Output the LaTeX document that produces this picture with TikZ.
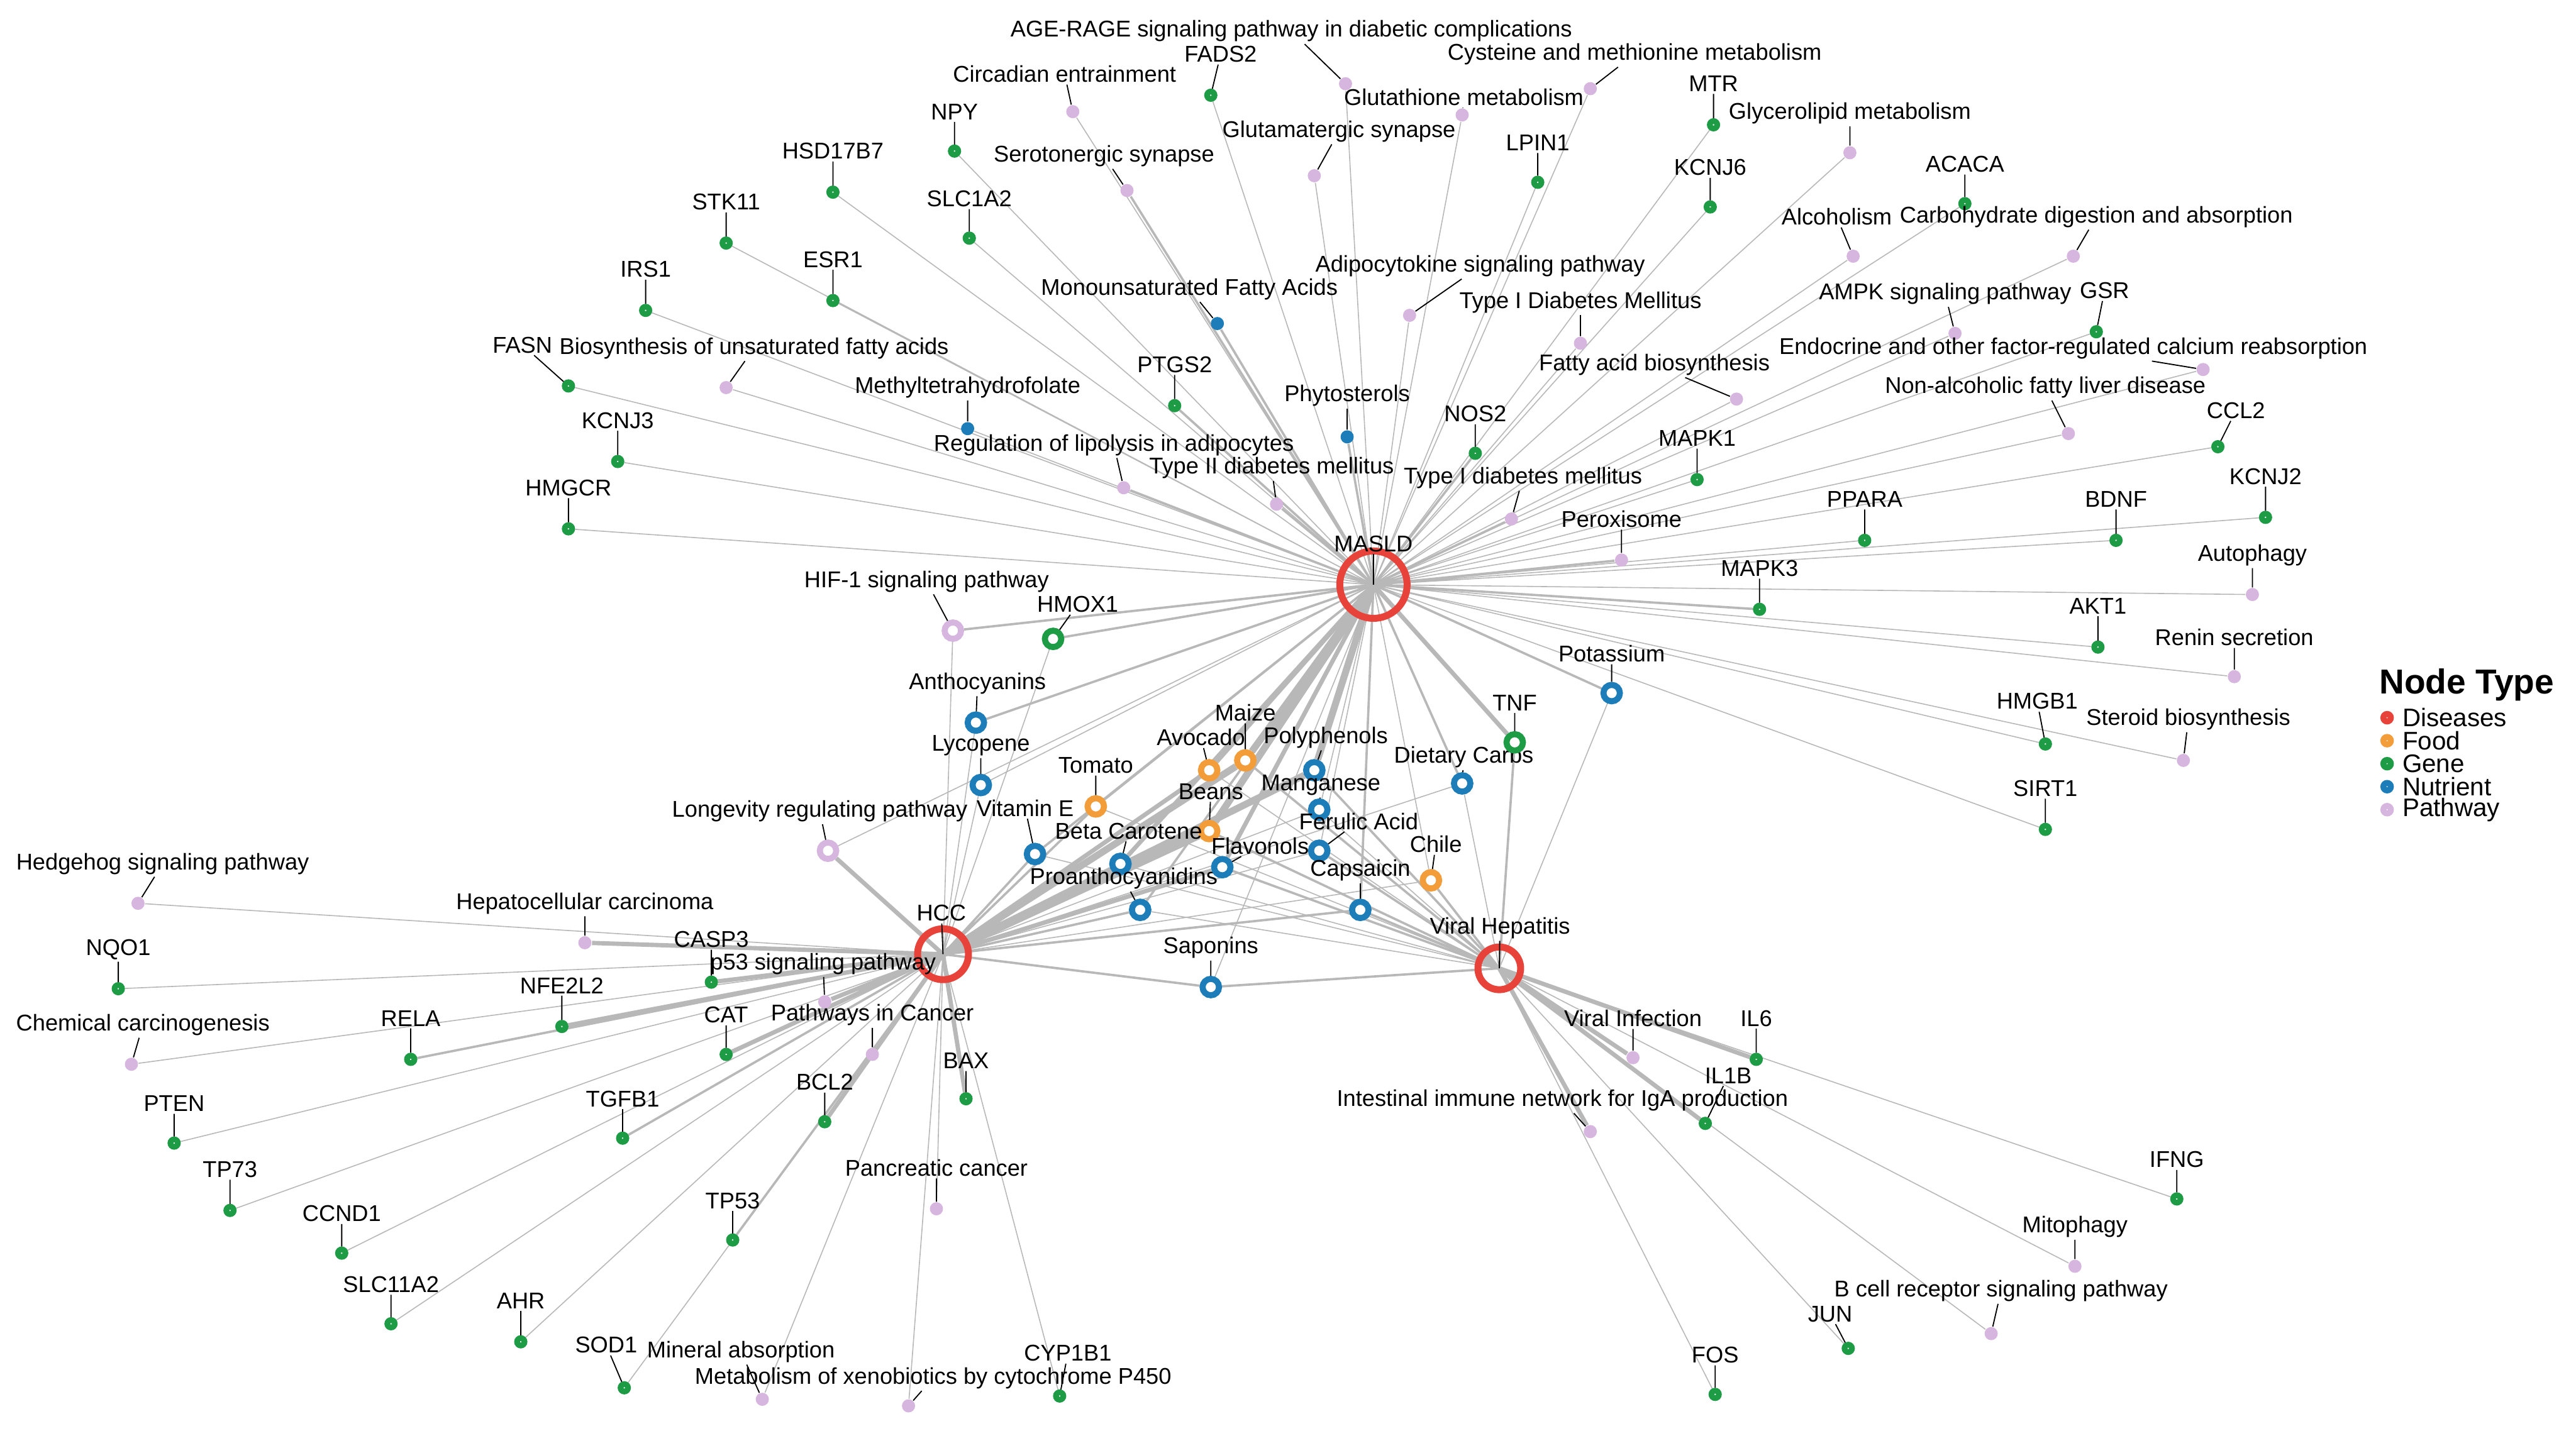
\documentclass[tikz,border=0pt]{standalone}
\usepackage{fontspec}
\setmainfont{Liberation Sans}
\usetikzlibrary{backgrounds}

\definecolor{disred}{HTML}{E8433A}
\definecolor{foodorange}{HTML}{F39C3A}
\definecolor{genegreen}{HTML}{1E9B45}
\definecolor{nutblue}{HTML}{1C7DB8}
\definecolor{pathpink}{HTML}{D6B6DE}
\definecolor{wiregray}{HTML}{B8B8B8}

\begin{document}
\begin{tikzpicture}[
    x=0.02cm, y=-0.02cm,
    font=\fontsize{7.9}{8.5}\selectfont,
    hub/.style={circle,draw=disred,line width=2.4pt,inner sep=0pt},
    ringnode/.style={circle,fill=white,line width=2.1pt,minimum size=0.2cm,inner sep=0pt},
    food/.style={ringnode,draw=foodorange},
    nutrient/.style={ringnode,draw=nutblue},
    genering/.style={ringnode,draw=genegreen},
    pathring/.style={ringnode,draw=pathpink},
    dotnode/.style={circle,minimum size=0.16cm,inner sep=0pt},
    gene/.style={circle,draw=genegreen,fill=white,line width=2pt,minimum size=0.09cm,inner sep=0pt},
    pathway/.style={dotnode,fill=pathpink},
    nutdot/.style={dotnode,fill=nutblue},
    lbl/.style={inner sep=0.6pt},
    leader/.style={line width=0.4pt,black},
    wire/.style={wiregray,line width=0.35pt},
    wiretwo/.style={wiregray,line width=0.8pt},
    wirethree/.style={wiregray,line width=1.5pt},
    wirefour/.style={wiregray,line width=2.4pt},
    legmark/.style={circle,line width=2.1pt,minimum size=0.09cm,inner sep=0pt,fill=white},
    legtext/.style={anchor=west,inner sep=0pt,font=\fontsize{8.8}{9}\selectfont}
]

\useasboundingbox (0,0) rectangle (1568,874);

% Hubs
\node[hub,minimum size=0.82cm] (masld) at (836,356) {};
\node[lbl] (t-masld) at (836,331) {MASLD};
\node[hub,minimum size=0.62cm] (hcc) at (574,581) {};
\node[lbl] (t-hcc) at (573,556) {HCC};
\node[hub,minimum size=0.52cm] (viral) at (912.6,589.6) {};
\node[lbl] (t-viral) at (913,565) {Viral Hepatitis};

% Food
\node[food] (tomato) at (667,491) {};  \node[lbl] (t-tomato) at (667,466) {Tomato};
\node[food] (avocado) at (736,469) {}; \node[lbl] (t-avocado) at (731,449) {Avocado};
\node[food] (maize) at (758,463) {};   \node[lbl] (t-maize) at (758,434) {Maize};
\node[food] (beans) at (736,506) {};   \node[lbl] (t-beans) at (737,482) {Beans};
\node[food] (chile) at (871,536) {};   \node[lbl] (t-chile) at (874,514) {Chile};

% Nutrients
\node[nutrient] (antho) at (594,440) {}; \node[lbl] (t-antho) at (595,416) {Anthocyanins};
\node[nutrient] (lyco) at (597,478) {};  \node[lbl] (t-lyco) at (597,454) {Lycopene};
\node[nutrient] (vite) at (630,520) {};  \node[lbl] (t-vite) at (624,492) {Vitamin E};
\node[nutrient] (beta) at (682,526) {};  \node[lbl] (t-beta) at (687,506) {Beta Carotene};
\node[nutrient] (proan) at (694,554) {}; \node[lbl] (t-proan) at (684,535) {Proanthocyanidins};
\node[nutrient] (flav) at (744,528) {};  \node[lbl] (t-flav) at (767,515) {Flavonols};
\node[nutrient] (poly) at (800,469) {};  \node[lbl] (t-poly) at (807,449) {Polyphenols};
\node[nutrient] (mang) at (803,493) {};  \node[lbl] (t-mang) at (804,478) {Manganese};
\node[nutrient] (feru) at (803,518) {};  \node[lbl] (t-feru) at (827,500) {Ferulic Acid};
\node[nutrient] (caps) at (828,554) {};  \node[lbl] (t-caps) at (828,530) {Capsaicin};
\node[nutrient] (carbs) at (890,477) {}; \node[lbl] (t-carbs) at (891,461) {Dietary Carbs};
\node[nutrient] (sapo) at (737,601) {};  \node[lbl] (t-sapo) at (737,577) {Saponins};
\node[nutrient] (potas) at (981,422) {}; \node[lbl] (t-potas) at (981,398) {Potassium};
\node[nutdot] (mufa) at (741,197) {};    \node[lbl] (t-mufa) at (724,176) {Monounsaturated Fatty Acids};
\node[nutdot] (mthf) at (589,261) {};    \node[lbl] (t-mthf) at (589,236) {Methyltetrahydrofolate};
\node[nutdot] (phyto) at (820,266) {};   \node[lbl] (t-phyto) at (820,241) {Phytosterols};

% Genes, MASLD side
\node[gene] (npy) at (581,92) {};     \node[lbl] (t-npy) at (581,68) {NPY};
\node[gene] (hsd) at (507,117) {};    \node[lbl] (t-hsd) at (507,92) {HSD17B7};
\node[gene] (stk) at (442,148) {};    \node[lbl] (t-stk) at (442,123) {STK11};
\node[gene] (irs) at (393,189) {};    \node[lbl] (t-irs) at (393,164) {IRS1};
\node[gene] (esr) at (507,183) {};    \node[lbl] (t-esr) at (507,158) {ESR1};
\node[gene] (slca) at (590,145) {};   \node[lbl] (t-slca) at (590,121) {SLC1A2};
\node[gene] (fasn) at (346,235) {};   \node[lbl] (t-fasn) at (318,210) {FASN};
\node[gene] (kcnjc) at (376,281) {};  \node[lbl] (t-kcnjc) at (376,256) {KCNJ3};
\node[gene] (hmgcr) at (346,322) {};  \node[lbl] (t-hmgcr) at (346,297) {HMGCR};
\node[gene] (fads) at (737,58) {};    \node[lbl] (t-fads) at (743,33) {FADS2};
\node[gene] (ptgs) at (715,247) {};   \node[lbl] (t-ptgs) at (715,222) {PTGS2};
\node[gene] (lpin) at (936,111) {};   \node[lbl] (t-lpin) at (936,87) {LPIN1};
\node[gene] (mtr) at (1043,76) {};    \node[lbl] (t-mtr) at (1043,51) {MTR};
\node[gene] (kcnjf) at (1041,126) {}; \node[lbl] (t-kcnjf) at (1041,102) {KCNJ6};
\node[gene] (nos) at (898,276) {};    \node[lbl] (t-nos) at (898,252) {NOS2};
\node[gene] (mapka) at (1033,292) {}; \node[lbl] (t-mapka) at (1033,267) {MAPK1};
\node[gene] (acaca) at (1196,124) {}; \node[lbl] (t-acaca) at (1196,100) {ACACA};
\node[gene] (gsr) at (1276,202) {};   \node[lbl] (t-gsr) at (1281,177) {GSR};
\node[gene] (ccl) at (1350,272) {};   \node[lbl] (t-ccl) at (1361,250) {CCL2};
\node[gene] (kcnjb) at (1379,315) {}; \node[lbl] (t-kcnjb) at (1379,290) {KCNJ2};
\node[gene] (bdnf) at (1288,329) {};  \node[lbl] (t-bdnf) at (1288,304) {BDNF};
\node[gene] (ppara) at (1135,329) {}; \node[lbl] (t-ppara) at (1135,304) {PPARA};
\node[gene] (mapkc) at (1071,371) {}; \node[lbl] (t-mapkc) at (1071,346) {MAPK3};
\node[gene] (akt) at (1277,394) {};   \node[lbl] (t-akt) at (1277,369) {AKT1};
\node[gene] (hmgb) at (1245,453) {};  \node[lbl] (t-hmgb) at (1240,427) {HMGB1};
\node[gene] (sirt) at (1245,505) {};  \node[lbl] (t-sirt) at (1245,480) {SIRT1};
\node[genering] (hmox) at (641,389) {}; \node[lbl] (t-hmox) at (656,368) {HMOX1};
\node[genering] (tnf) at (922,452) {};  \node[lbl] (t-tnf) at (922,428) {TNF};

% Genes, HCC side
\node[gene] (nqo) at (72,602) {};     \node[lbl] (t-nqo) at (72,578) {NQO1};
\node[gene] (casp) at (433,598) {};   \node[lbl] (t-casp) at (433,572) {CASP3};
\node[gene] (nfe) at (342,625) {};    \node[lbl] (t-nfe) at (342,600) {NFE2L2};
\node[gene] (rela) at (250,645) {};   \node[lbl] (t-rela) at (250,620) {RELA};
\node[gene] (cat) at (442,642) {};    \node[lbl] (t-cat) at (442,618) {CAT};
\node[gene] (pten) at (106,696) {};   \node[lbl] (t-pten) at (106,672) {PTEN};
\node[gene] (tgfb) at (379,693) {};   \node[lbl] (t-tgfb) at (379,669) {TGFB1};
\node[gene] (bcl) at (502,683) {};    \node[lbl] (t-bcl) at (502,659) {BCL2};
\node[gene] (bax) at (588,669) {};    \node[lbl] (t-bax) at (588,646) {BAX};
\node[gene] (tpsz) at (140,737) {};   \node[lbl] (t-tpsz) at (140,712) {TP73};
\node[gene] (ccnd) at (208,763) {};   \node[lbl] (t-ccnd) at (208,739) {CCND1};
\node[gene] (tpft) at (446,755) {};   \node[lbl] (t-tpft) at (446,731) {TP53};
\node[gene] (slcb) at (238,806) {};   \node[lbl] (t-slcb) at (238,782) {SLC11A2};
\node[gene] (ahr) at (317,817) {};    \node[lbl] (t-ahr) at (317,792) {AHR};
\node[gene] (sod) at (380,845) {};    \node[lbl] (t-sod) at (369,819) {SOD1};
\node[gene] (cyp) at (645,850) {};    \node[lbl] (t-cyp) at (650,824) {CYP1B1};

% Genes, viral side
\node[gene] (ilsix) at (1069,645) {}; \node[lbl] (t-ilsix) at (1069,620) {IL6};
\node[gene] (ilb) at (1038,684) {};   \node[lbl] (t-ilb) at (1052,655) {IL1B};
\node[gene] (ifng) at (1325,730) {};  \node[lbl] (t-ifng) at (1325,706) {IFNG};
\node[gene] (jun) at (1125,821) {};   \node[lbl] (t-jun) at (1114,800) {JUN};
\node[gene] (fos) at (1044,849) {};   \node[lbl] (t-fos) at (1044,825) {FOS};

% Pathways, MASLD side
\node[pathway] (agerage) at (819,51) {}; \node[lbl] (t-agerage) at (786,19) {AGE-RAGE signaling pathway in diabetic complications};
\node[pathway] (circ) at (653,68) {};    \node[lbl] (t-circ) at (648,45) {Circadian entrainment};
\node[pathway] (sero) at (686,116) {};   \node[lbl] (t-sero) at (672,95) {Serotonergic synapse};
\node[pathway] (gluta) at (800,107) {};  \node[lbl] (t-gluta) at (815,80) {Glutamatergic synapse};
\node[pathway] (gsh) at (890,70) {};     \node[lbl] (t-gsh) at (891,59) {Glutathione metabolism};
\node[pathway] (cys) at (968,54) {};     \node[lbl] (t-cys) at (995,33) {Cysteine and methionine metabolism};
\node[pathway] (glycero) at (1126,93) {}; \node[lbl] (t-glycero) at (1126,69) {Glycerolipid metabolism};
\node[pathway] (alco) at (1128,156) {};  \node[lbl] (t-alco) at (1118,132) {Alcoholism};
\node[pathway] (carbo) at (1262,156) {}; \node[lbl] (t-carbo) at (1276,132) {Carbohydrate digestion and absorption};
\node[pathway] (ampk) at (1190,203) {};  \node[lbl] (t-ampk) at (1184,179) {AMPK signaling pathway};
\node[pathway] (endo) at (1341,225) {};  \node[lbl] (t-endo) at (1262,212) {Endocrine and other factor-regulated calcium reabsorption};
\node[pathway] (nafld) at (1259,264) {}; \node[lbl] (t-nafld) at (1245,236) {Non-alcoholic fatty liver disease};
\node[pathway] (adipo) at (858,192) {};  \node[lbl] (t-adipo) at (901,162) {Adipocytokine signaling pathway};
\node[pathway] (tidm) at (962,209) {};   \node[lbl] (t-tidm) at (962,184) {Type I Diabetes Mellitus};
\node[pathway] (fab) at (1057,243) {};   \node[lbl] (t-fab) at (1007,222) {Fatty acid biosynthesis};
\node[pathway] (biosyn) at (442,236) {}; \node[lbl] (t-biosyn) at (459,212) {Biosynthesis of unsaturated fatty acids};
\node[pathway] (lipo) at (684,297) {};   \node[lbl] (t-lipo) at (678,271) {Regulation of lipolysis in adipocytes};
\node[pathway] (ttdm) at (777,307) {};   \node[lbl] (t-ttdm) at (774,285) {Type II diabetes mellitus};
\node[pathway] (tidml) at (920,316) {};  \node[lbl] (t-tidml) at (927,291) {Type I diabetes mellitus};
\node[pathway] (perox) at (987,341) {};  \node[lbl] (t-perox) at (987,316) {Peroxisome};
\node[pathway] (autoph) at (1371,362) {}; \node[lbl] (t-autoph) at (1371,338) {Autophagy};
\node[pathway] (renin) at (1360,412) {}; \node[lbl] (t-renin) at (1360,388) {Renin secretion};
\node[pathway] (steroid) at (1329,463) {}; \node[lbl] (t-steroid) at (1332,438) {Steroid biosynthesis};
\node[pathring] (hif) at (580,384) {};   \node[lbl] (t-hif) at (564,354) {HIF-1 signaling pathway};

% Pathways, HCC side
\node[pathring] (longev) at (504,518) {}; \node[lbl] (t-longev) at (499,494) {Longevity regulating pathway};
\node[pathway] (hedge) at (84,550) {};   \node[lbl] (t-hedge) at (99,526) {Hedgehog signaling pathway};
\node[pathway] (hepca) at (356,574) {};  \node[lbl] (t-hepca) at (356,550) {Hepatocellular carcinoma};
\node[pathway] (pft) at (502,610) {};    \node[lbl] (t-pft) at (501,587) {p53 signaling pathway};
\node[pathway] (chem) at (80,648) {};    \node[lbl] (t-chem) at (87,624) {Chemical carcinogenesis};
\node[pathway] (pic) at (531,642) {};    \node[lbl] (t-pic) at (531,618) {Pathways in Cancer};
\node[pathway] (panc) at (570,736) {};   \node[lbl] (t-panc) at (570,711) {Pancreatic cancer};
\node[pathway] (mineral) at (464,852) {}; \node[lbl] (t-mineral) at (451,823) {Mineral absorption};
\node[pathway] (xeno) at (553,856) {};   \node[lbl] (t-xeno) at (568,839) {Metabolism of xenobiotics by cytochrome P450};

% Pathways, viral side
\node[pathway] (virinf) at (994,644) {}; \node[lbl] (t-virinf) at (994,620) {Viral Infection};
\node[pathway] (intest) at (968,689) {}; \node[lbl] (t-intest) at (951,670) {Intestinal immune network for IgA production};
\node[pathway] (mitoph) at (1263,771) {}; \node[lbl] (t-mitoph) at (1263,747) {Mitophagy};
\node[pathway] (bcr) at (1212,812) {};   \node[lbl] (t-bcr) at (1218,786) {B cell receptor signaling pathway};

% Links
\begin{scope}[on background layer]
\draw[wire] (masld.center) -- (npy) (masld.center) -- (hsd) (masld.center) -- (stk)
    (masld.center) -- (irs) (masld.center) -- (esr) (masld.center) -- (slca)
    (masld.center) -- (fasn) (masld.center) -- (kcnjc) (masld.center) -- (hmgcr)
    (masld.center) -- (fads) (masld.center) -- (lpin) (masld.center) -- (mtr)
    (masld.center) -- (kcnjf) (masld.center) -- (mapka) (masld.center) -- (acaca)
    (masld.center) -- (gsr) (masld.center) -- (ccl) (masld.center) -- (kcnjb)
    (masld.center) -- (bdnf) (masld.center) -- (ppara) (masld.center) -- (akt)
    (masld.center) -- (hmgb) (masld.center) -- (sirt) (masld.center) -- (agerage)
    (masld.center) -- (circ) (masld.center) -- (gluta) (masld.center) -- (gsh)
    (masld.center) -- (cys) (masld.center) -- (glycero) (masld.center) -- (alco)
    (masld.center) -- (carbo) (masld.center) -- (ampk) (masld.center) -- (endo)
    (masld.center) -- (nafld) (masld.center) -- (adipo) (masld.center) -- (tidm)
    (masld.center) -- (fab) (masld.center) -- (biosyn) (masld.center) -- (autoph)
    (masld.center) -- (renin) (masld.center) -- (steroid) (masld.center) -- (mthf)
    (masld.center) -- (lyco) (masld.center) -- (mang) (masld.center) -- (feru)
    (masld.center) -- (chile) (masld.center) -- (sapo) (masld.center) -- (longev);
\draw[wiretwo] (masld.center) -- (ptgs) (masld.center) -- (nos) (masld.center) -- (mapkc)
    (masld.center) -- (sero) (masld.center) -- (lipo) (masld.center) -- (ttdm)
    (masld.center) -- (tidml) (masld.center) -- (perox) (masld.center) -- (hif)
    (masld.center) -- (hmox) (masld.center) -- (mufa) (masld.center) -- (phyto)
    (masld.center) -- (antho) (masld.center) -- (vite) (masld.center) -- (proan)
    (masld.center) -- (carbs) (masld.center) -- (potas) (masld.center) -- (caps)
    (masld.center) -- (tomato);
\draw[wirethree] (masld.center) -- (tnf) (masld.center) -- (avocado)
    (masld.center) -- (beta) (masld.center) -- (flav);
\draw[wirefour] (masld.center) -- (maize) (masld.center) -- (beans) (masld.center) -- (poly);

\draw[wire] (hcc.center) -- (hedge) (hcc.center) -- (nqo) (hcc.center) -- (chem)
    (hcc.center) -- (pten) (hcc.center) -- (tpsz) (hcc.center) -- (ccnd)
    (hcc.center) -- (slcb) (hcc.center) -- (ahr) (hcc.center) -- (sod)
    (hcc.center) -- (mineral) (hcc.center) -- (xeno) (hcc.center) -- (cyp)
    (hcc.center) -- (panc) (hcc.center) -- (hif) (hcc.center) -- (hmox)
    (hcc.center) -- (lyco) (hcc.center) -- (antho) (hcc.center) -- (mang)
    (hcc.center) -- (feru) (hcc.center) -- (carbs) (hcc.center) -- (chile);
\draw[wiretwo] (hcc.center) -- (rela) (hcc.center) -- (tgfb) (hcc.center) -- (tpft)
    (hcc.center) -- (vite) (hcc.center) -- (proan) (hcc.center) -- (caps)
    (hcc.center) -- (sapo) (hcc.center) -- (tomato);
\draw[wirethree] (hcc.center) -- (hepca) (hcc.center) -- (casp) (hcc.center) -- (pft)
    (hcc.center) -- (nfe) (hcc.center) -- (cat) (hcc.center) -- (pic)
    (hcc.center) -- (bcl) (hcc.center) -- (bax) (hcc.center) -- (longev)
    (hcc.center) -- (avocado) (hcc.center) -- (beta) (hcc.center) -- (flav);
\draw[wirefour] (hcc.center) -- (maize) (hcc.center) -- (beans) (hcc.center) -- (poly);

\draw[wire] (viral.center) -- (ifng) (viral.center) -- (mitoph) (viral.center) -- (bcr)
    (viral.center) -- (jun) (viral.center) -- (fos) (viral.center) -- (potas)
    (viral.center) -- (carbs) (viral.center) -- (tomato) (viral.center) -- (vite)
    (viral.center) -- (beta) (viral.center) -- (proan) (viral.center) -- (mang)
    (viral.center) -- (avocado);
\draw[wiretwo] (viral.center) -- (chile) (viral.center) -- (feru) (viral.center) -- (caps)
    (viral.center) -- (flav) (viral.center) -- (maize) (viral.center) -- (beans)
    (viral.center) -- (poly) (viral.center) -- (sapo) (viral.center) -- (tnf);
\draw[wirethree] (viral.center) -- (virinf) (viral.center) -- (ilsix)
    (viral.center) -- (ilb) (viral.center) -- (intest);
\end{scope}

% Label leaders
\draw[leader] (t-masld) -- (masld.center) (t-hcc) -- (hcc.center) (t-viral) -- (viral.center);
\draw[leader] (tomato) -- (t-tomato) (avocado) -- (t-avocado) (maize) -- (t-maize)
    (beans) -- (t-beans) (chile) -- (t-chile);
\draw[leader] (antho) -- (t-antho) (lyco) -- (t-lyco) (vite) -- (t-vite) (beta) -- (t-beta)
    (proan) -- (t-proan) (flav) -- (t-flav) (poly) -- (t-poly) (mang) -- (t-mang)
    (feru) -- (t-feru) (caps) -- (t-caps) (carbs) -- (t-carbs) (sapo) -- (t-sapo)
    (potas) -- (t-potas) (mufa) -- (t-mufa) (mthf) -- (t-mthf) (phyto) -- (t-phyto);
\draw[leader] (npy) -- (t-npy) (hsd) -- (t-hsd) (stk) -- (t-stk) (irs) -- (t-irs)
    (esr) -- (t-esr) (slca) -- (t-slca) (fasn) -- (t-fasn) (kcnjc) -- (t-kcnjc)
    (hmgcr) -- (t-hmgcr) (fads) -- (t-fads) (ptgs) -- (t-ptgs) (lpin) -- (t-lpin)
    (mtr) -- (t-mtr) (kcnjf) -- (t-kcnjf) (nos) -- (t-nos) (mapka) -- (t-mapka)
    (acaca) -- (t-acaca) (gsr) -- (t-gsr) (ccl) -- (t-ccl) (kcnjb) -- (t-kcnjb)
    (bdnf) -- (t-bdnf) (ppara) -- (t-ppara) (mapkc) -- (t-mapkc) (akt) -- (t-akt)
    (hmgb) -- (t-hmgb) (sirt) -- (t-sirt) (hmox) -- (t-hmox) (tnf) -- (t-tnf);
\draw[leader] (nqo) -- (t-nqo) (casp) -- (t-casp) (nfe) -- (t-nfe) (rela) -- (t-rela)
    (cat) -- (t-cat) (pten) -- (t-pten) (tgfb) -- (t-tgfb) (bcl) -- (t-bcl)
    (bax) -- (t-bax) (tpsz) -- (t-tpsz) (ccnd) -- (t-ccnd) (tpft) -- (t-tpft)
    (slcb) -- (t-slcb) (ahr) -- (t-ahr) (sod) -- (t-sod) (cyp) -- (t-cyp)
    (ilsix) -- (t-ilsix) (ilb) -- (t-ilb) (ifng) -- (t-ifng) (jun) -- (t-jun) (fos) -- (t-fos);
\draw[leader] (agerage) -- (t-agerage) (circ) -- (t-circ) (sero) -- (t-sero)
    (gluta) -- (t-gluta) (gsh) -- (t-gsh) (cys) -- (t-cys) (glycero) -- (t-glycero)
    (alco) -- (t-alco) (carbo) -- (t-carbo) (ampk) -- (t-ampk) (endo) -- (t-endo)
    (nafld) -- (t-nafld) (adipo) -- (t-adipo) (tidm) -- (t-tidm) (fab) -- (t-fab)
    (biosyn) -- (t-biosyn) (lipo) -- (t-lipo) (ttdm) -- (t-ttdm) (tidml) -- (t-tidml)
    (perox) -- (t-perox) (autoph) -- (t-autoph) (renin) -- (t-renin)
    (steroid) -- (t-steroid) (hif) -- (t-hif);
\draw[leader] (longev) -- (t-longev) (hedge) -- (t-hedge) (hepca) -- (t-hepca)
    (pft) -- (t-pft) (chem) -- (t-chem) (pic) -- (t-pic) (panc) -- (t-panc)
    (mineral) -- (t-mineral) (xeno) -- (t-xeno) (virinf) -- (t-virinf)
    (intest) -- (t-intest) (mitoph) -- (t-mitoph) (bcr) -- (t-bcr);

% Legend
\node[anchor=west,inner sep=0pt,font=\bfseries\fontsize{12}{12}\selectfont] (legend) at (1448,417) {Node Type};
\node[legmark,draw=disred] (lg-dis) at (1453,437) {};     \node[legtext] (lgt-dis) at (1462,437) {Diseases};
\node[legmark,draw=foodorange] (lg-food) at (1453,451) {}; \node[legtext] (lgt-food) at (1462,451) {Food};
\node[legmark,draw=genegreen] (lg-gene) at (1453,465) {};  \node[legtext] (lgt-gene) at (1462,465) {Gene};
\node[legmark,draw=nutblue] (lg-nut) at (1453,479) {};     \node[legtext] (lgt-nut) at (1462,479) {Nutrient};
\node[legmark,draw=pathpink] (lg-path) at (1453,493) {};   \node[legtext] (lgt-path) at (1462,493) {Pathway};

\end{tikzpicture}
\end{document}
